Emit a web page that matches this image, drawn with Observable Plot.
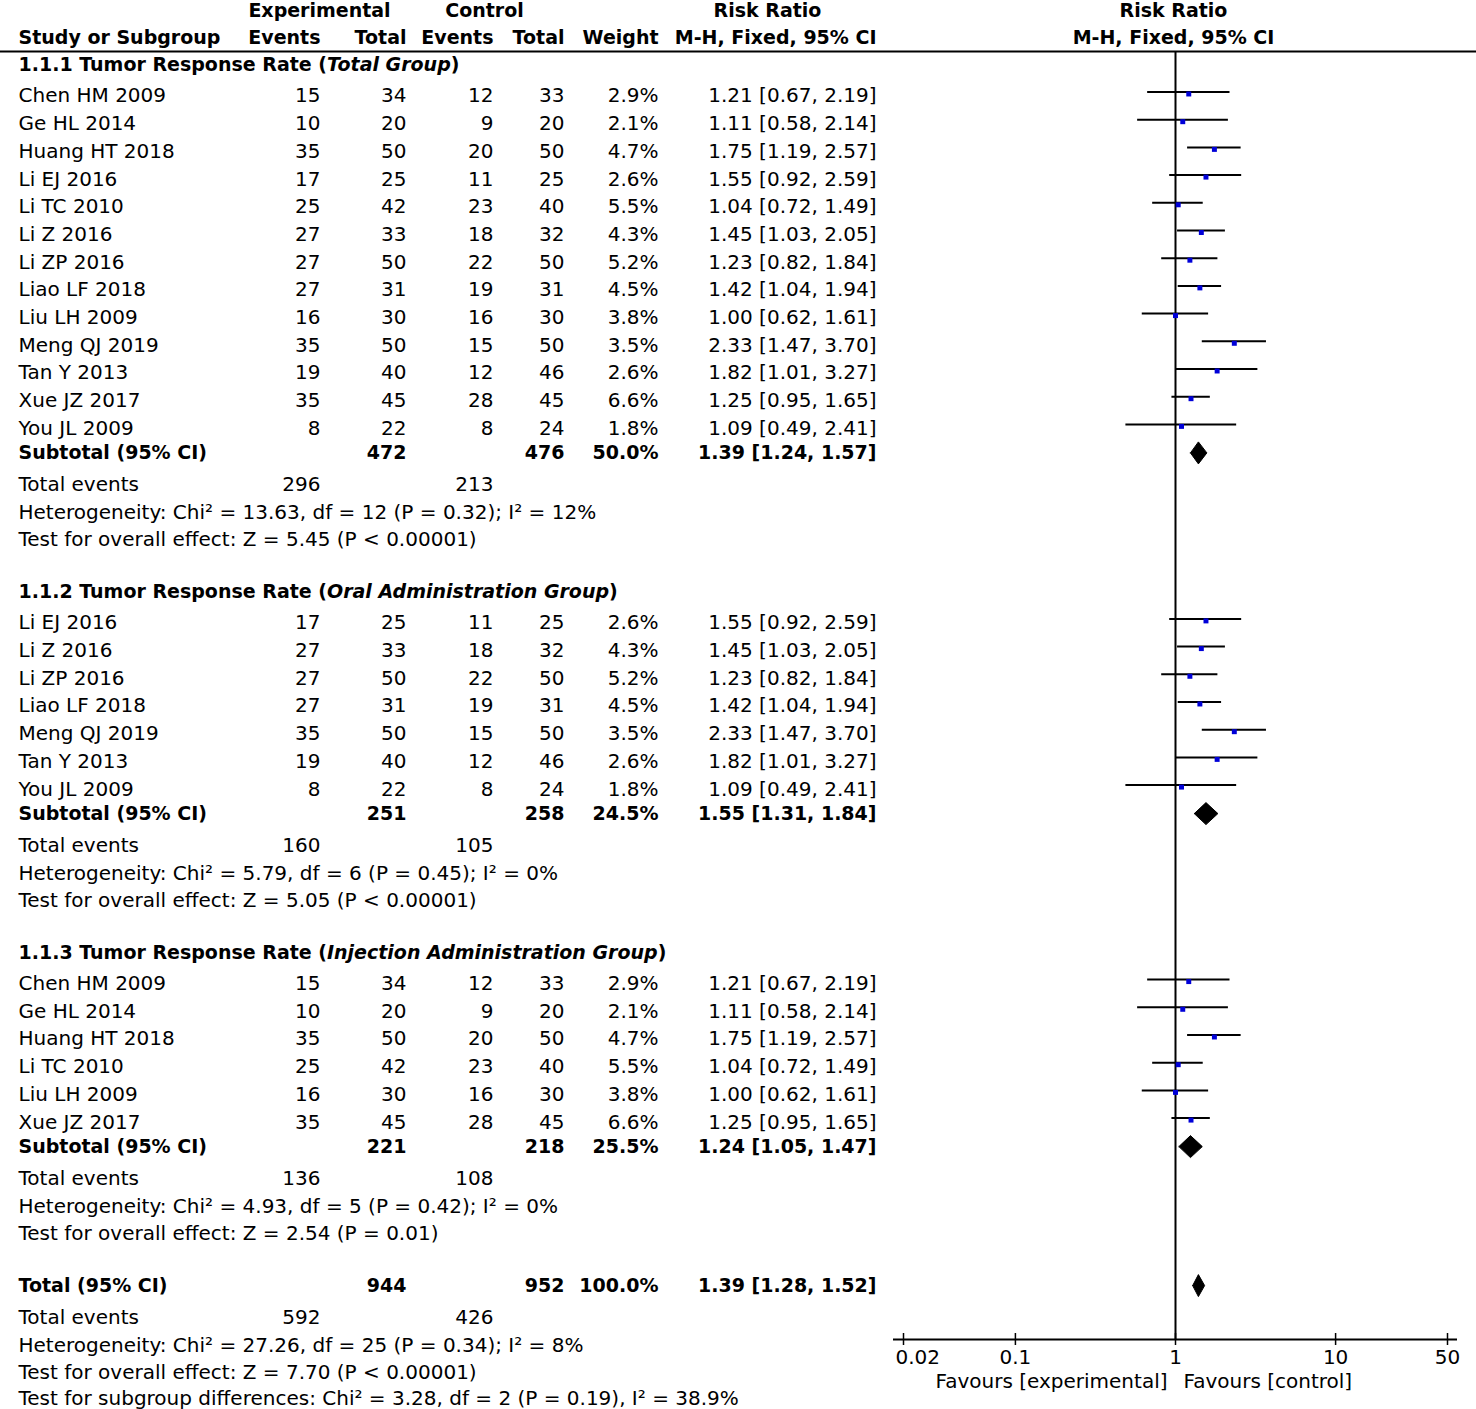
<!DOCTYPE html>
<html><head><meta charset="utf-8">
<script src="https://cdn.jsdelivr.net/npm/d3@7"></script>
<script src="https://cdn.jsdelivr.net/npm/@observablehq/plot@0.6"></script>
<style>body{margin:0;background:#fff}#chart svg{display:block}</style>
</head><body><div id="chart"></div>
<script>
// ---------- data ----------
const studyNames = ["Chen HM 2009","Ge HL 2014","Huang HT 2018","Li EJ 2016","Li TC 2010","Li Z 2016","Li ZP 2016","Liao LF 2018","Liu LH 2009","Meng QJ 2019","Tan Y 2013","Xue JZ 2017","You JL 2009"];
const expEvents  = [15,10,35,17,25,27,27,27,16,35,19,35,8];
const expTotal   = [34,20,50,25,42,33,50,31,30,50,40,45,22];
const ctrlEvents = [12,9,20,11,23,18,22,19,16,15,12,28,8];
const ctrlTotal  = [33,20,50,25,40,32,50,31,30,50,46,45,24];
const weights    = [2.9,2.1,4.7,2.6,5.5,4.3,5.2,4.5,3.8,3.5,2.6,6.6,1.8];
const riskRatio  = [1.21,1.11,1.75,1.55,1.04,1.45,1.23,1.42,1.00,2.33,1.82,1.25,1.09];
const ciLow      = [0.67,0.58,1.19,0.92,0.72,1.03,0.82,1.04,0.62,1.47,1.01,0.95,0.49];
const ciHigh     = [2.19,2.14,2.57,2.59,1.49,2.05,1.84,1.94,1.61,3.70,3.27,1.65,2.41];

const sectionLabels = ["1.1.1 Tumor Response Rate","1.1.2 Tumor Response Rate","1.1.3 Tumor Response Rate"];
const sectionGroups = ["Total Group","Oral Administration Group","Injection Administration Group"];
const sectionStudies = [
  studyNames,
  ["Li EJ 2016","Li Z 2016","Li ZP 2016","Liao LF 2018","Meng QJ 2019","Tan Y 2013","You JL 2009"],
  ["Chen HM 2009","Ge HL 2014","Huang HT 2018","Li TC 2010","Liu LH 2009","Xue JZ 2017"]
];
const subExpTotal   = [472,251,221];
const subCtrlTotal  = [476,258,218];
const subWeight     = [50.0,24.5,25.5];
const subRR         = [1.39,1.55,1.24];
const subLow        = [1.24,1.31,1.05];
const subHigh       = [1.57,1.84,1.47];
const subExpEvents  = [296,160,136];
const subCtrlEvents = [213,105,108];
const subHeterogeneity = [
  "Heterogeneity: Chi² = 13.63, df = 12 (P = 0.32); I² = 12%",
  "Heterogeneity: Chi² = 5.79, df = 6 (P = 0.45); I² = 0%",
  "Heterogeneity: Chi² = 4.93, df = 5 (P = 0.42); I² = 0%"
];
const subOverall = [
  "Test for overall effect: Z = 5.45 (P < 0.00001)",
  "Test for overall effect: Z = 5.05 (P < 0.00001)",
  "Test for overall effect: Z = 2.54 (P = 0.01)"
];
const totalExpTotal = 944, totalCtrlTotal = 952, totalWeight = 100.0;
const totalRR = 1.39, totalLow = 1.28, totalHigh = 1.52;
const totalExpEvents = 592, totalCtrlEvents = 426;
const totalHeterogeneity = "Heterogeneity: Chi² = 27.26, df = 25 (P = 0.34); I² = 8%";
const totalOverall = "Test for overall effect: Z = 7.70 (P < 0.00001)";
const subgroupDifferences = "Test for subgroup differences: Chi² = 3.28, df = 2 (P = 0.19), I² = 38.9%";

const axisTicks = [0.02, 0.1, 1, 10, 50];
const favoursLabels = ["Favours [experimental]", "Favours [control]"];
const headerTop = ["Experimental", "Control", "Risk Ratio", "Risk Ratio"];
const headerBottom = ["Study or Subgroup", "Events", "Total", "Events", "Total", "Weight", "M-H, Fixed, 95% CI", "M-H, Fixed, 95% CI"];

// ---------- layout ----------
const fmtCI = (r, l, h) => `${r.toFixed(2)} [${l.toFixed(2)}, ${h.toFixed(2)}]`;
const fmtW = w => `${w.toFixed(1)}%`;
const STEP = 27.7, HALF = 11;
const rows = [], studyRows = [], diamonds = [];
function diamond(y, r, l, h, g) {
  return [{x: l, y, g}, {x: r, y: y - HALF, g}, {x: h, y, g}, {x: r, y: y + HALF, g}, {x: l, y, g}];
}
let y = 64.5;
sectionLabels.forEach((lab, s) => {
  rows.push({y, name: `${lab} (${sectionGroups[s]})`, bold: true});
  let ry = y + 31;
  sectionStudies[s].forEach((nm) => {
    const i = studyNames.indexOf(nm);
    const r = {y: ry, name: nm, ee: expEvents[i], et: expTotal[i], ce: ctrlEvents[i], ct: ctrlTotal[i],
      w: fmtW(weights[i]), ci: fmtCI(riskRatio[i], ciLow[i], ciHigh[i]), rr: riskRatio[i], lo: ciLow[i], hi: ciHigh[i]};
    rows.push(r); studyRows.push(r);
    ry += STEP;
  });
  const sy = ry - STEP + 24.5;
  rows.push({y: sy, name: "Subtotal (95% CI)", et: subExpTotal[s], ct: subCtrlTotal[s], w: fmtW(subWeight[s]),
    ci: fmtCI(subRR[s], subLow[s], subHigh[s]), bold: true});
  diamonds.push(...diamond(sy, subRR[s], subLow[s], subHigh[s], "s" + s));
  const ty = sy + 31.5;
  rows.push({y: ty, name: "Total events", ee: subExpEvents[s], ce: subCtrlEvents[s]});
  rows.push({y: ty + 28, name: subHeterogeneity[s]});
  rows.push({y: ty + 55.5, name: subOverall[s]});
  y = ty + 55.5 + 52;
});
rows.push({y, name: "Total (95% CI)", et: totalExpTotal, ct: totalCtrlTotal, w: fmtW(totalWeight),
  ci: fmtCI(totalRR, totalLow, totalHigh), bold: true});
diamonds.push(...diamond(y, totalRR, totalLow, totalHigh, "total"));
rows.push({y: y + 31.5, name: "Total events", ee: totalExpEvents, ce: totalCtrlEvents});
rows.push({y: y + 59.5, name: totalHeterogeneity});
rows.push({y: y + 87, name: totalOverall});
rows.push({y: y + 113, name: subgroupDifferences});

const AXIS_Y = 1339, HEADER_LINE = 51;
const BOLD_SIZE = 19;
const columns = [
  {key: "name", dx: 18,  anchor: "start"},
  {key: "ee",   dx: 320, anchor: "end"},
  {key: "et",   dx: 406, anchor: "end"},
  {key: "ce",   dx: 493, anchor: "end"},
  {key: "ct",   dx: 564, anchor: "end"},
  {key: "w",    dx: 658, anchor: "end"},
  {key: "ci",   dx: 876, anchor: "end"}
];
const tableMarks = [];
for (const c of columns) {
  for (const b of [false, true]) {
    const d = rows.filter(r => r[c.key] != null && !!r.bold === b);
    if (!d.length) continue;
    tableMarks.push(Plot.text(d, {y: "y", text: c.key, frameAnchor: "left", dx: c.dx,
      textAnchor: c.anchor, fontWeight: b ? "bold" : "normal", fontSize: b ? BOLD_SIZE : 20}));
  }
}
// header
const topPos = [{dx: 319, a: "middle"}, {dx: 484, a: "middle"}, {dx: 767, a: "middle"}];
const botPos = [{dx: 18, a: "start"}, {dx: 320, a: "end"}, {dx: 406, a: "end"}, {dx: 493, a: "end"},
                {dx: 564, a: "end"}, {dx: 658, a: "end"}, {dx: 876, a: "end"}];
const headerMarks = [];
const hdr = {fontWeight: "bold", fontSize: BOLD_SIZE};
topPos.forEach((p, i) => headerMarks.push(Plot.text([headerTop[i]], {frameAnchor: "left", dx: p.dx, y: 10, textAnchor: p.a, ...hdr})));
botPos.forEach((p, i) => headerMarks.push(Plot.text([headerBottom[i]], {frameAnchor: "left", dx: p.dx, y: 37.5, textAnchor: p.a, ...hdr})));
headerMarks.push(Plot.text([headerTop[3]], {x: 1, y: 10, dx: -2, ...hdr}));
headerMarks.push(Plot.text([headerBottom[7]], {x: 1, y: 37.5, dx: -2, ...hdr}));

const chart = Plot.plot({
  width: 1476, height: 1409,
  marginLeft: 0, marginRight: 0, marginTop: 0, marginBottom: 1409 - AXIS_Y,
  style: {fontFamily: "DejaVu Sans", fontSize: "20px", background: "white", color: "black"},
  x: {type: "log", domain: [0.02, 50], range: [903, 1447], axis: null},
  y: {type: "identity", axis: null},
  marks: [
    ...headerMarks,
    Plot.ruleY([HEADER_LINE], {strokeWidth: 2}),
    ...tableMarks,
    Plot.ruleX([1], {y1: HEADER_LINE, y2: AXIS_Y, strokeWidth: 2}),
    Plot.ruleY(studyRows, {x1: "lo", x2: "hi", y: d => d.y - 4, strokeWidth: 2}),
    Plot.dot(studyRows, {x: "rr", y: d => d.y - 2, symbol: "square", r: 2.8, fill: "#0000d8", stroke: null}),
    Plot.line(diamonds, {x: "x", y: "y", z: "g", fill: "black", stroke: "black", strokeWidth: 1}),
    Plot.ruleY([AXIS_Y], {x1: 0.02, x2: 50, insetLeft: -10, insetRight: -10, strokeWidth: 2}),
    Plot.ruleX(axisTicks, {y1: AXIS_Y - 6, y2: AXIS_Y + 6, strokeWidth: 1.5}),
    Plot.text(axisTicks.slice(0, 1), {x: d => d, y: 1357, dx: -8, textAnchor: "start", text: d => String(d)}),
    Plot.text(axisTicks.slice(1), {x: d => d, y: 1357, text: d => String(d)}),
    Plot.text([favoursLabels[0]], {x: 1, y: 1381, dx: -8, textAnchor: "end"}),
    Plot.text([favoursLabels[1]], {x: 1, y: 1381, dx: 8, textAnchor: "start"})
  ]
});

// italic subgroup names inside section titles
d3.select(chart).selectAll("text").filter(function() { return /^1\.1\.\d /.test(this.textContent); })
  .each(function() {
    const t = this.textContent;
    const i = t.indexOf("(");
    const el = d3.select(this);
    el.text(null);
    el.append("tspan").text(t.slice(0, i + 1));
    el.append("tspan").attr("font-style", "italic").text(t.slice(i + 1, -1));
    el.append("tspan").text(")");
  });

document.getElementById("chart").append(chart);
</script>
</body></html>
